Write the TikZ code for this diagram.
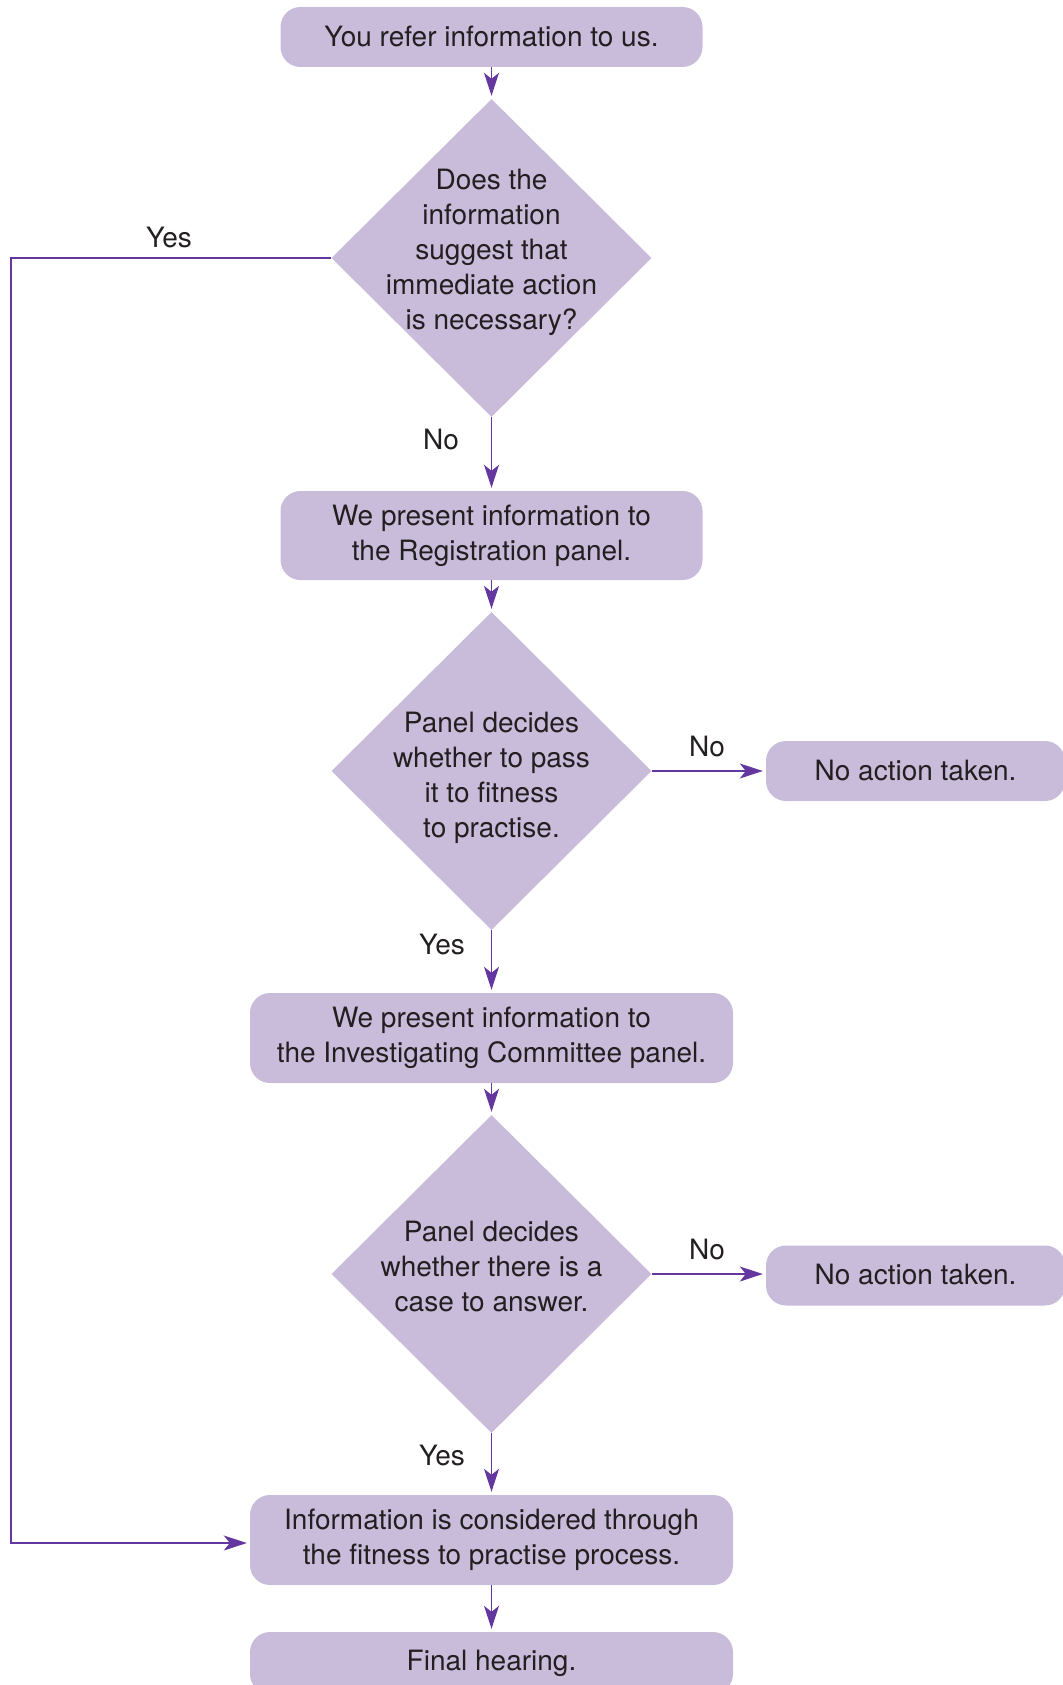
\documentclass[tikz,border=0pt]{standalone}
\usepackage{fontspec}
\setmainfont{TeX Gyre Heros}
\usetikzlibrary{shapes.geometric,arrows.meta}
\definecolor{boxfill}{HTML}{C9BCDB}
\definecolor{linec}{HTML}{6436A0}
\definecolor{txt}{HTML}{231F20}
\begin{document}
\begin{tikzpicture}[x=1pt,y=-1pt,
  every node/.style={text=txt,font=\fontsize{28}{35}\selectfont},
  box/.style={fill=boxfill,rounded corners=20pt,inner sep=0pt,align=center},
  dia/.style={diamond,fill=boxfill,inner sep=0pt,minimum width=320pt,minimum height=318pt},
  dtext/.style={align=center,inner sep=0pt},
  conn/.style={draw=linec,line width=1.4pt,-{Stealth[length=23pt,width=15pt,inset=6pt]},shorten >=3pt},
  lbl/.style={inner sep=0pt}]
\useasboundingbox (0,0) rectangle (1062,1685);

\node[box,minimum width=422pt,minimum height=60pt] (b1) at (491.5,37) {\raisebox{2pt}{You refer information to us.}};
\node[dia] (d1) at (491.5,258) {};
\node[dtext] (d1t) at (491.5,252) {Does the\\information\\suggest that\\immediate action\\is necessary?};
\node[box,minimum width=422pt,minimum height=89pt] (b2) at (491.5,535.5) {We present information to\\the Registration panel.};
\node[dia] (d2) at (491.5,771) {};
\node[dtext] (d2t) at (491.5,777.5) {Panel decides\\whether to pass\\it to fitness\\to practise.};
\node[box,minimum width=299pt,minimum height=60pt] (n1) at (915.5,771) {\raisebox{2pt}{No action taken.}};
\node[box,minimum width=483pt,minimum height=90pt] (b3) at (491.5,1038) {We present information to\\the Investigating Committee panel.};
\node[dia] (d3) at (491.5,1274) {};
\node[dtext] (d3t) at (491.5,1266) {Panel decides\\whether there is a\\case to answer.};
\node[box,minimum width=299pt,minimum height=60pt] (n2) at (915.5,1275.5) {\raisebox{2pt}{No action taken.}};
\node[box,minimum width=483pt,minimum height=90pt] (b4) at (491.5,1540) {Information is considered through\\the fitness to practise process.};
\node[box,minimum width=483pt,minimum height=62pt] (b5) at (491.5,1663) {\raisebox{2pt}{Final hearing.}};

\coordinate (c1) at (11,258);
\coordinate (c2) at (11,1543);

\draw[conn] (b1.south) -- (d1.north);
\draw[conn] (d1.south) -- (b2.north);
\draw[conn] (b2.south) -- (d2.north);
\draw[conn] (d2.east) -- (d2.east -| n1.west);
\draw[conn] (d2.south) -- (b3.north);
\draw[conn] (b3.south) -- (d3.north);
\draw[conn] (d3.east) -- (d3.east -| n2.west);
\draw[conn] (d3.south) -- (b4.north);
\draw[conn] (b4.south) -- (b5.north);
\draw[conn] (d1.west) -- (c1) -- (c2) -- (b4.west |- c2);

\node[lbl] (l1) at (169,238) {Yes};
\node[lbl] (l2) at (441,440) {No};
\node[lbl] (l3) at (707,746) {No};
\node[lbl] (l4) at (442,944) {Yes};
\node[lbl] (l5) at (707,1249) {No};
\node[lbl] (l6) at (442,1455) {Yes};
\end{tikzpicture}
\end{document}
